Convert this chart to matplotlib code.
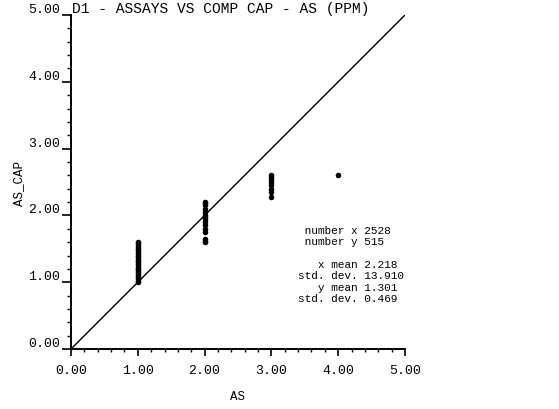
import matplotlib
matplotlib.use("Agg")
import matplotlib.pyplot as plt
from matplotlib.ticker import MultipleLocator, FormatStrFormatter

title = "D1 - ASSAYS VS COMP CAP - AS (PPM)"
x_label = "AS"
y_label = "AS_CAP"

as_1 = [1.0, 1.02, 1.05, 1.08, 1.1, 1.12, 1.15, 1.18, 1.2, 1.22, 1.25, 1.28, 1.3,
        1.32, 1.35, 1.38, 1.4, 1.42, 1.45, 1.48, 1.5, 1.52, 1.55, 1.58, 1.6]
as_2 = [1.6, 1.62, 1.65, 1.75, 1.8, 1.85, 1.9, 1.95, 1.98, 2.0, 2.05, 2.1, 2.15, 2.18, 2.2]
as_3 = [2.28, 2.35, 2.4, 2.45, 2.5, 2.55, 2.58, 2.6]
as_4 = [2.6]
groups_x = [1.0, 2.0, 3.0, 4.0]
groups_y = [as_1, as_2, as_3, as_4]

stat_labels = ["number x", "number y", "", "x mean", "std. dev.", "y mean", "std. dev."]
stat_values = ["2528", "515", "", "2.218", "13.910", "1.301", "0.469"]

font = "Liberation Mono"
plt.rcParams["font.family"] = [font, "DejaVu Sans Mono"]

fig = plt.figure(figsize=(5.59, 4.10), dpi=100)
ax = fig.add_axes([0.127, 0.1463, 0.5975, 0.8146])

xs, ys = [], []
for gx, gy in zip(groups_x, groups_y):
    xs += [gx] * len(gy)
    ys += gy
ax.plot(xs, ys, linestyle="none", marker="o", markersize=4.0, color="black",
        markeredgewidth=0, zorder=3)
ax.plot([0, 5], [0, 5], color="black", linewidth=1.0, zorder=2)

ax.set_xlim(0, 5)
ax.set_ylim(0, 5)
for s in ["top", "right"]:
    ax.spines[s].set_visible(False)
for s in ["left", "bottom"]:
    ax.spines[s].set_linewidth(1.4)

ax.xaxis.set_major_locator(MultipleLocator(1))
ax.xaxis.set_minor_locator(MultipleLocator(0.2))
ax.yaxis.set_major_locator(MultipleLocator(1))
ax.yaxis.set_minor_locator(MultipleLocator(0.2))
ax.xaxis.set_major_formatter(FormatStrFormatter("%.2f"))
ax.yaxis.set_major_formatter(FormatStrFormatter("%.2f"))
ax.tick_params(axis="x", which="major", length=5, width=1.2, labelsize=9.5, pad=6)
ax.tick_params(axis="x", which="minor", length=2.5, width=1.0)
ax.tick_params(axis="y", which="major", length=6.5, width=1.2, labelsize=9.5, pad=1.5)
ax.tick_params(axis="y", which="minor", length=3, width=1.0)
for lbl in ax.get_yticklabels():
    lbl.set_verticalalignment("bottom")

ax.set_xlabel(x_label, fontsize=9, labelpad=10)
ax.set_ylabel(y_label, fontsize=9, labelpad=2)

ax.text(0.004, 1.0, title, transform=ax.transAxes, fontsize=10.5, ha="left",
        va="bottom")

lines = [(f"{l:>9} {v}" if l else "") for l, v in zip(stat_labels, stat_values)]
ax.text(0.68, 0.372, "\n".join(lines), transform=ax.transAxes, fontsize=8,
        ha="left", va="top", linespacing=1.17)

fig.savefig("out.png", dpi=100)
